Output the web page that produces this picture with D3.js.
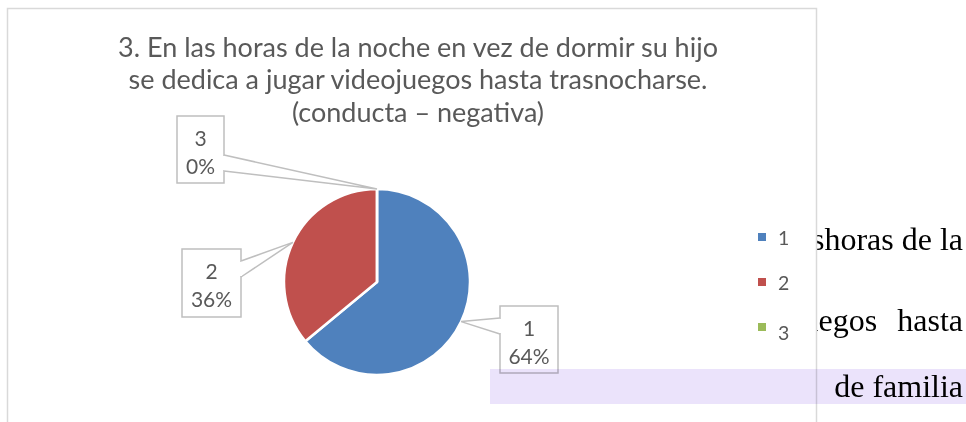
<!DOCTYPE html>
<html>
<head>
<meta charset="utf-8">
<script src="https://cdn.jsdelivr.net/npm/d3@7"></script>
<style>
  body { margin: 0; background: #fff; }
  svg { display: block; }
</style>
</head>
<body>
<div id="chart"></div>
<script>
const categories = ["1", "2", "3"];
const values = [16, 9, 0];
const colors = ["#4f81bd", "#c0504d", "#9bbb59"];
const titleLines = [
  "3. En las horas de la noche en vez de dormir su hijo",
  "se dedica a jugar videojuegos hasta trasnocharse.",
  "(conducta \u2013 negativa)"
];
// what shows of the page text beside the chart
const docLines = ["shoras de la", "uegos  hasta", "de familia"];

const width = 966, height = 422;
const cx = 377, cy = 282, radius = 93;
const font = "Lato, 'Open Sans', sans-serif";

const svg = d3.select("#chart").append("svg")
  .attr("width", width)
  .attr("height", height);

// text of the page behind the chart, cut by the chart's edge
svg.append("clipPath").attr("id", "page")
  .append("rect").attr("x", 817).attr("y", 0).attr("width", 200).attr("height", height);

svg.append("g")
  .attr("clip-path", "url(#page)")
  .attr("font-family", "'Liberation Serif', 'Times New Roman', serif")
  .attr("font-size", 32)
  .attr("fill", "#000")
  .attr("text-anchor", "end")
  .selectAll("text")
  .data(docLines)
  .enter().append("text")
  .attr("x", 963)
  .attr("y", (d, i) => [250, 331, 397][i])
  .attr("word-spacing", (d, i) => i === 1 ? 2 : 0)
  .style("white-space", "pre")
  .text(d => d);

// chart area
svg.append("rect")
  .attr("x", 7.5).attr("y", 8.5)
  .attr("width", 809).attr("height", 430)
  .attr("fill", "#fff")
  .attr("stroke", "#d9d9d9")
  .attr("stroke-width", 1.5);

const title = svg.append("g")
  .attr("font-family", font)
  .attr("font-size", 20)
  .attr("fill", "#595959")
  .attr("text-anchor", "middle");
title.selectAll("text")
  .data(titleLines)
  .enter().append("text")
  .attr("x", 418)
  .attr("y", (d, i) => 56.5 + i * 32.8)
  .text(d => d);
// fit the first line to the width it has in the chart
const w0 = title.select("text").node().getComputedTextLength();
title.attr("font-size", 20 * 600 / w0);

const pie = d3.pie().sort(null).value(d => d.value);
const data = categories.map((c, i) => ({ name: c, value: values[i], color: colors[i] }));
const arcs = pie(data);
const total = d3.sum(values);
const arc = d3.arc().innerRadius(0).outerRadius(radius);

const g = svg.append("g").attr("transform", `translate(${cx},${cy})`);
g.selectAll("path")
  .data(arcs)
  .enter().append("path")
  .attr("d", arc)
  .attr("fill", d => d.data.color)
  .attr("stroke", "#fff")
  .attr("stroke-width", 2.5)
  .attr("stroke-linejoin", "round");

// callout labels
const boxes = [
  { x: 500, y: 306, w: 58, h: 67 },
  { x: 182, y: 249, w: 59, h: 68 },
  { x: 177, y: 116, w: 47, h: 67 }
];
const pct = d3.format(".0%");

arcs.forEach((a, i) => {
  const b = boxes[i];
  const mid = (a.startAngle + a.endAngle) / 2;
  const ax = cx + radius * Math.sin(mid);
  const ay = cy - radius * Math.cos(mid);
  const edgeX = ax > b.x + b.w ? b.x + b.w : b.x;
  const by = Math.max(b.y + 20, Math.min(b.y + b.h - 20, ay));
  const lab = svg.append("g");
  lab.append("path")
    .attr("d", `M${b.x},${b.y}H${b.x + b.w}V${b.y + b.h}H${b.x}Z`)
    .attr("fill", "#fff")
    .attr("stroke", "#bfbfbf")
    .attr("stroke-width", 1.5);
  lab.append("path")
    .attr("d", `M${edgeX},${by - 8}L${ax},${ay}L${edgeX},${by + 8}`)
    .attr("fill", "#fff")
    .attr("stroke", "#bfbfbf")
    .attr("stroke-width", 1.5);
  lab.append("line")
    .attr("x1", edgeX).attr("x2", edgeX)
    .attr("y1", by - 7).attr("y2", by + 7)
    .attr("stroke", "#fff").attr("stroke-width", 2);
  lab.selectAll("text")
    .data([a.data.name, pct(a.data.value / total)])
    .enter().append("text")
    .attr("x", b.x + b.w / 2)
    .attr("y", (d, j) => b.y + 29.5 + j * 28.5)
    .attr("text-anchor", "middle")
    .attr("font-family", font)
    .attr("font-size", 21)
    .attr("fill", "#595959")
    .text(d => d);
});

// legend
const legend = svg.append("g").attr("transform", "translate(758,0)");
legend.selectAll("rect")
  .data(data)
  .enter().append("rect")
  .attr("x", 0)
  .attr("y", (d, i) => 233 + i * 45)
  .attr("width", 8).attr("height", 8)
  .attr("fill", d => d.color);
legend.selectAll("text")
  .data(data)
  .enter().append("text")
  .attr("x", 20)
  .attr("y", (d, i) => 245 + i * 45 + (i === 2 ? 4.5 : 0))
  .attr("font-family", font)
  .attr("font-size", 19.5)
  .attr("fill", "#595959")
  .text(d => d.name);

// highlighted line of the page
svg.append("rect")
  .attr("x", 490).attr("y", 369)
  .attr("width", 476).attr("height", 35)
  .attr("fill", "#ebe3fb")
  .style("mix-blend-mode", "multiply");
</script>
</body>
</html>
